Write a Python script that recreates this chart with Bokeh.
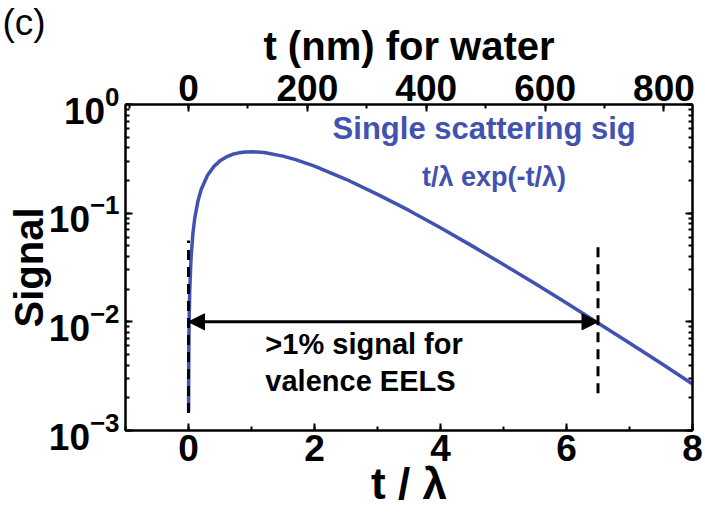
from bokeh.plotting import figure
from bokeh.models import (Range1d, LinearAxis, LogAxis, SingleIntervalTicker, LogTicker,
                          Label, Arrow, NormalHead, CustomJSTickFormatter, Title)
from bokeh.embed import file_html
from bokeh.resources import INLINE

# ---- data ----
t_over_lambda = [0.0015, 0.003, 0.006, 0.01, 0.02, 0.04, 0.07, 0.1, 0.15, 0.2, 0.3, 0.4,
                 0.5, 0.6, 0.7, 0.8, 0.9, 1.0, 1.2, 1.5, 1.7, 2.0, 2.5, 3.0, 3.5, 4.0,
                 4.5, 5.0, 5.5, 6.0, 6.5, 7.0, 7.5, 8.0]
signal = [0.0015, 0.003, 0.006, 0.0099, 0.0196, 0.0384, 0.0653, 0.0905, 0.129, 0.164,
          0.222, 0.268, 0.303, 0.329, 0.348, 0.359, 0.366, 0.368, 0.361, 0.335, 0.311,
          0.271, 0.205, 0.149, 0.106, 0.0733, 0.05, 0.0337, 0.0225, 0.0149, 0.00977,
          0.00638, 0.00415, 0.00268]
cutoff_x = [0.0, 6.5]            # t/lambda limits of >1% signal
cutoff_level = 0.01              # 1% signal
left_dash_y = [0.00145, 0.056]
right_dash_y = [0.0022, 0.056]
lambda_nm = 106.0                # inelastic mean free path of water (nm)
x_lo, x_hi = -1.0, 8.0
y_lo, y_hi = 1e-3, 1.0

BLUE = "#4152b0"
FONT = "Liberation Sans"

p = figure(width=705, height=518, output_backend="svg", toolbar_location=None,
           x_range=Range1d(x_lo, x_hi), y_range=Range1d(y_lo, y_hi),
           y_axis_type="log", x_axis_location=None, y_axis_location=None,
           min_border_left=125, min_border_right=13, min_border_top=104, min_border_bottom=88)
p.background_fill_color = "white"
p.border_fill_color = "white"
p.grid.visible = False
p.outline_line_color = "black"
p.outline_line_width = 2

p.extra_x_ranges = {"nm": Range1d(x_lo * lambda_nm, x_hi * lambda_nm)}

def style(ax):
    ax.axis_line_color = "black"
    ax.axis_line_width = 2
    ax.major_tick_in = 7
    ax.major_tick_out = 0
    ax.minor_tick_in = 4
    ax.minor_tick_out = 0
    ax.major_tick_line_width = 2
    ax.minor_tick_line_width = 2
    ax.major_label_text_font = FONT
    ax.major_label_text_font_style = "bold"
    ax.major_label_text_font_size = "37px"
    ax.major_label_text_color = "black"
    ax.axis_label_text_font = FONT
    ax.axis_label_text_font_style = "bold"
    ax.axis_label_text_color = "black"

bottom = LinearAxis(ticker=SingleIntervalTicker(interval=2, num_minor_ticks=2),
                    axis_label="t / λ")
style(bottom)
bottom.axis_label_text_font_size = "44px"
bottom.major_label_standoff = 4
bottom.axis_label_standoff = -5
p.add_layout(bottom, "below")

top = LinearAxis(x_range_name="nm", ticker=SingleIntervalTicker(interval=200, num_minor_ticks=2),
                 axis_label="t (nm) for water")
style(top)
top.axis_label_text_font_size = "40px"
top.major_label_standoff = 4
top.axis_label_standoff = 4
p.add_layout(top, "above")

left = LogAxis(ticker=LogTicker(num_minor_ticks=10), axis_label="Signal")
style(left)
left.axis_label_text_font_size = "40px"
left.major_label_standoff = 6
left.axis_label_standoff = -5
p.add_layout(left, "left")

right = LogAxis(ticker=LogTicker(num_minor_ticks=10),
                formatter=CustomJSTickFormatter(code="return ''"))
style(right)
right.major_label_standoff = 0
p.add_layout(right, "right")

# panel tag "(c)" as an outermost title overlapping the top axis band
p.add_layout(Title(text="(c)", align="left", offset=-123, standoff=-44,
                   vertical_align="bottom", text_font=FONT, text_font_style="normal",
                   text_font_size="37px", text_color="black"), "above")

# curve
p.line(t_over_lambda, signal, line_color=BLUE, line_width=3.5)

# dashed cutoff lines
p.line([cutoff_x[0], cutoff_x[0]], left_dash_y, line_color="black", line_width=3, line_dash="10 7")
p.line([cutoff_x[1], cutoff_x[1]], right_dash_y, line_color="black", line_width=3, line_dash="10 7")

# double arrow at 1 %
p.add_layout(Arrow(start=NormalHead(size=16, fill_color="black", line_color="black"),
                   end=NormalHead(size=16, fill_color="black", line_color="black"),
                   x_start=cutoff_x[0], y_start=cutoff_level, x_end=cutoff_x[1], y_end=cutoff_level,
                   line_width=3, line_color="black"))

# annotations
p.add_layout(Label(x=7.1, y=0.6, text="Single scattering sig", text_font=FONT,
                   text_font_style="bold", text_font_size="31px", text_color=BLUE,
                   text_align="right", text_baseline="middle"))
p.add_layout(Label(x=4.85, y=0.215, text="t/λ exp(-t/λ)", text_font=FONT,
                   text_font_style="bold", text_font_size="27px", text_color=BLUE,
                   text_align="center", text_baseline="middle"))
p.add_layout(Label(x=1.22, y=0.0062, text=">1% signal for", text_font=FONT,
                   text_font_style="bold", text_font_size="29px", text_color="black",
                   text_align="left", text_baseline="middle"))
p.add_layout(Label(x=1.22, y=0.00283, text="valence EELS", text_font=FONT,
                   text_font_style="bold", text_font_size="29px", text_color="black",
                   text_align="left", text_baseline="middle"))

open("out.html", "w").write(file_html(p, INLINE))
